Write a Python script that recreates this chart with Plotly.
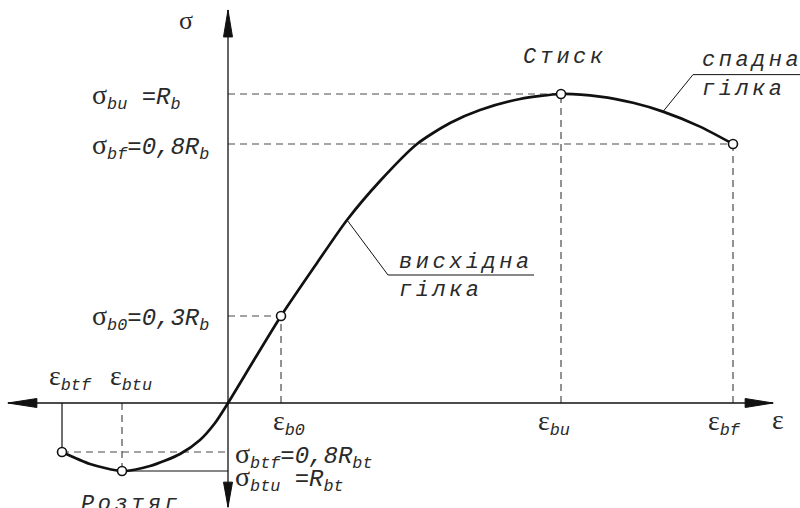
import plotly.graph_objects as go

# ---- data (strain normalised by eps_bu, stress normalised by R_b) ----
curve_eps = [-0.4985, -0.4144, -0.3183, -0.2342, -0.1441, -0.0841, -0.0390, 0.0, 0.0781, 0.1592,
             0.2673, 0.3574, 0.4565, 0.5676, 0.6667, 0.7568, 0.8769, 1.0, 1.1171, 1.2162,
             1.3063, 1.4174, 1.5165]
curve_sig = [-0.1586, -0.1974, -0.2201, -0.2039, -0.1650, -0.1197, -0.0647, 0.0, 0.1392, 0.2816,
             0.4531, 0.5922, 0.7184, 0.8382, 0.9061, 0.9482, 0.9838, 1.0, 0.9916, 0.9715,
             0.9430, 0.8945, 0.8382]

point_names = ["btf", "btu", "b0", "bu", "bf"]
point_eps = [-0.4985, -0.3183, 0.1592, 1.0, 1.5165]
point_sig = [-0.1586, -0.2201, 0.2816, 1.0, 0.8382]
P = {n: (e, s) for n, e, s in zip(point_names, point_eps, point_sig)}

# axis extents (arrow tips) in the same units
AX_LEFT, AX_RIGHT = -0.661, 1.637
AX_BOTTOM, AX_TOP = -0.337, 1.272
X_RANGE = [-0.6847, 1.7177]
Y_RANGE = [-0.3398, 1.3042]

INK = "#111111"
DASH_C = "#4a4a4a"
TXT = "#2a2a2a"

fig = go.Figure()
fig.add_trace(go.Scatter(x=curve_eps, y=curve_sig, mode="lines",
                         line=dict(color=INK, width=2.7, shape="spline", smoothing=0.7),
                         hoverinfo="skip", showlegend=False))
fig.add_trace(go.Scatter(x=point_eps, y=point_sig, mode="markers",
                         marker=dict(symbol="circle", size=9, color="white",
                                     line=dict(color=INK, width=1.6)),
                         hoverinfo="skip", showlegend=False))

shapes = []
def line(x0, y0, x1, y1, dash=None, width=1.2, color=DASH_C):
    d = dict(type="line", xref="x", yref="y", x0=x0, y0=y0, x1=x1, y1=y1,
             line=dict(color=color, width=width), layer="below")
    if dash:
        d["line"]["dash"] = dash
    shapes.append(d)

DS = "7px,5px"
e, s = P["bu"]; line(0, s, e, s, DS); line(e, 0, e, s, DS)
e, s = P["bf"]; line(0, s, e, s, DS); line(e, 0, e, s, DS)
e, s = P["b0"]; line(0, s, e, s, DS); line(e, 0, e, s, DS)
e, s = P["btf"]; line(e, s, 0, s, DS); line(e, 0, e, s, None, 1.2, INK)
e, s = P["btu"]; line(e, 0, e, s, DS); line(e, s, 0, s, None, 1.2, INK)

# axes
line(AX_LEFT, 0, AX_RIGHT, 0, None, 1.3, INK)
line(0, AX_BOTTOM, 0, AX_TOP, None, 1.3, INK)

def arrow(xa, ya, path):
    shapes.append(dict(type="path", xref="x", yref="y", xsizemode="pixel", ysizemode="pixel",
                       xanchor=xa, yanchor=ya, path=path, fillcolor=INK,
                       line=dict(color=INK, width=1)))
arrow(0, AX_TOP, "M0,0 L-4.5,-27 L4.5,-27 Z")
arrow(0, AX_BOTTOM, "M0,0 L-4.5,25 L4.5,25 Z")
arrow(AX_LEFT, 0, "M0,0 L29,4.5 L29,-4.5 Z")
arrow(AX_RIGHT, 0, "M0,0 L-28,4.5 L-28,-4.5 Z")

# leader lines for captions (anchored on curve points, offsets in pixels)
def leader(idx, dx, dy, length):
    xa, ya = curve_eps[idx], curve_sig[idx]
    shapes.append(dict(type="path", xref="x", yref="y", xsizemode="pixel", ysizemode="pixel",
                       xanchor=xa, yanchor=ya,
                       path=f"M0,0 L{dx},{dy} L{dx + length},{dy}",
                       line=dict(color=INK, width=1)))
leader(11, 41, -55, 146)
leader(20, 30, 37, 120)

SIG = "<span style='font-family:Liberation Serif;font-style:normal;font-size:28px'>σ</span>"
EPS = "<span style='font-family:Liberation Serif;font-style:normal;font-size:28px'>ε</span>"
FONT = dict(family="Liberation Mono", size=24, color=TXT, style="italic")
CFONT = dict(family="Liberation Mono", size=22, color=TXT, style="italic")

anns = []
def ann(text, x, y, xref="x", yref="y", xanchor="center", yanchor="middle",
        xshift=0, yshift=0, font=None):
    anns.append(dict(text=text, x=x, y=y, xref=xref, yref=yref, xanchor=xanchor,
                     yanchor=yanchor, xshift=xshift, yshift=yshift, showarrow=False,
                     font=font or FONT))

def it(t):
    return "<i>" + t + "</i>"

# axis titles
ann("σ", 0, AX_TOP, xshift=-42, yshift=-11,
    font=dict(family="Liberation Serif", size=26, color=TXT))
ann("ε", AX_RIGHT, 0, xshift=5, yshift=-16,
    font=dict(family="Liberation Serif", size=28, color=TXT))

# stress labels on the left
LX = 90 / 800
ann(SIG + it("<sub>bu</sub> =R<sub>b</sub>"), LX, P["bu"][1], xref="paper", xanchor="left", yshift=-2)
ann(SIG + it("<sub>bf</sub>=0,8R<sub>b</sub>"), LX, P["bf"][1], xref="paper", xanchor="left", yshift=-2)
ann(SIG + it("<sub>b0</sub>=0,3R<sub>b</sub>"), LX, P["b0"][1], xref="paper", xanchor="left", yshift=-2)

# strain labels
ann(EPS + it("<sub>b0</sub>"), P["b0"][0], 0, xshift=8, yshift=-19)
ann(EPS + it("<sub>bu</sub>"), P["bu"][0], 0, xshift=-7, yshift=-19)
ann(EPS + it("<sub>bf</sub>"), P["bf"][0], 0, xshift=-9, yshift=-19)
ann(EPS + it("<sub>btf</sub>"), P["btf"][0], 0, xshift=8, yshift=26)
ann(EPS + it("<sub>btu</sub>"), P["btu"][0], 0, xshift=9, yshift=26)

# tension labels
ann(SIG + it("<sub>btf</sub>=0,8R<sub>bt</sub>"), 0, P["btf"][1], xanchor="left", xshift=5, yshift=-3)
ann(SIG + it("<sub>btu</sub> =R<sub>bt</sub>"), 0, P["btu"][1], xanchor="left", xshift=5, yshift=-7)

CAP = "<i><span style='letter-spacing:3.5px'>{}</span></i>"
ann(CAP.format("Стиск"), P["bu"][0], P["bu"][1], yshift=37, xshift=4, font=CFONT)
ann(CAP.format("Розтяг"), P["btu"][0], AX_BOTTOM, xshift=9, yshift=3, font=CFONT)
ann(CAP.format("висхідна"), 397 / 800, 1 - 262 / 508, xref="paper", yref="paper", xanchor="left", font=CFONT)
ann(CAP.format("гілка"), 397 / 800, 1 - 290 / 508, xref="paper", yref="paper", xanchor="left", font=CFONT)
ann(CAP.format("спадна"), 700 / 800, 1 - 60 / 508, xref="paper", yref="paper", xanchor="left", font=CFONT)
ann(CAP.format("гілка"), 700 / 800, 1 - 89 / 508, xref="paper", yref="paper", xanchor="left", font=CFONT)

fig.update_layout(
    width=800, height=508, margin=dict(l=0, r=0, t=0, b=0),
    paper_bgcolor="white", plot_bgcolor="white",
    xaxis=dict(range=X_RANGE, visible=False, fixedrange=True),
    yaxis=dict(range=Y_RANGE, visible=False, fixedrange=True),
    shapes=shapes, annotations=anns, showlegend=False,
)
fig.write_html("out.html", config={"displayModeBar": False},
               post_script="document.body.style.margin='0';document.body.style.overflow='hidden';")
